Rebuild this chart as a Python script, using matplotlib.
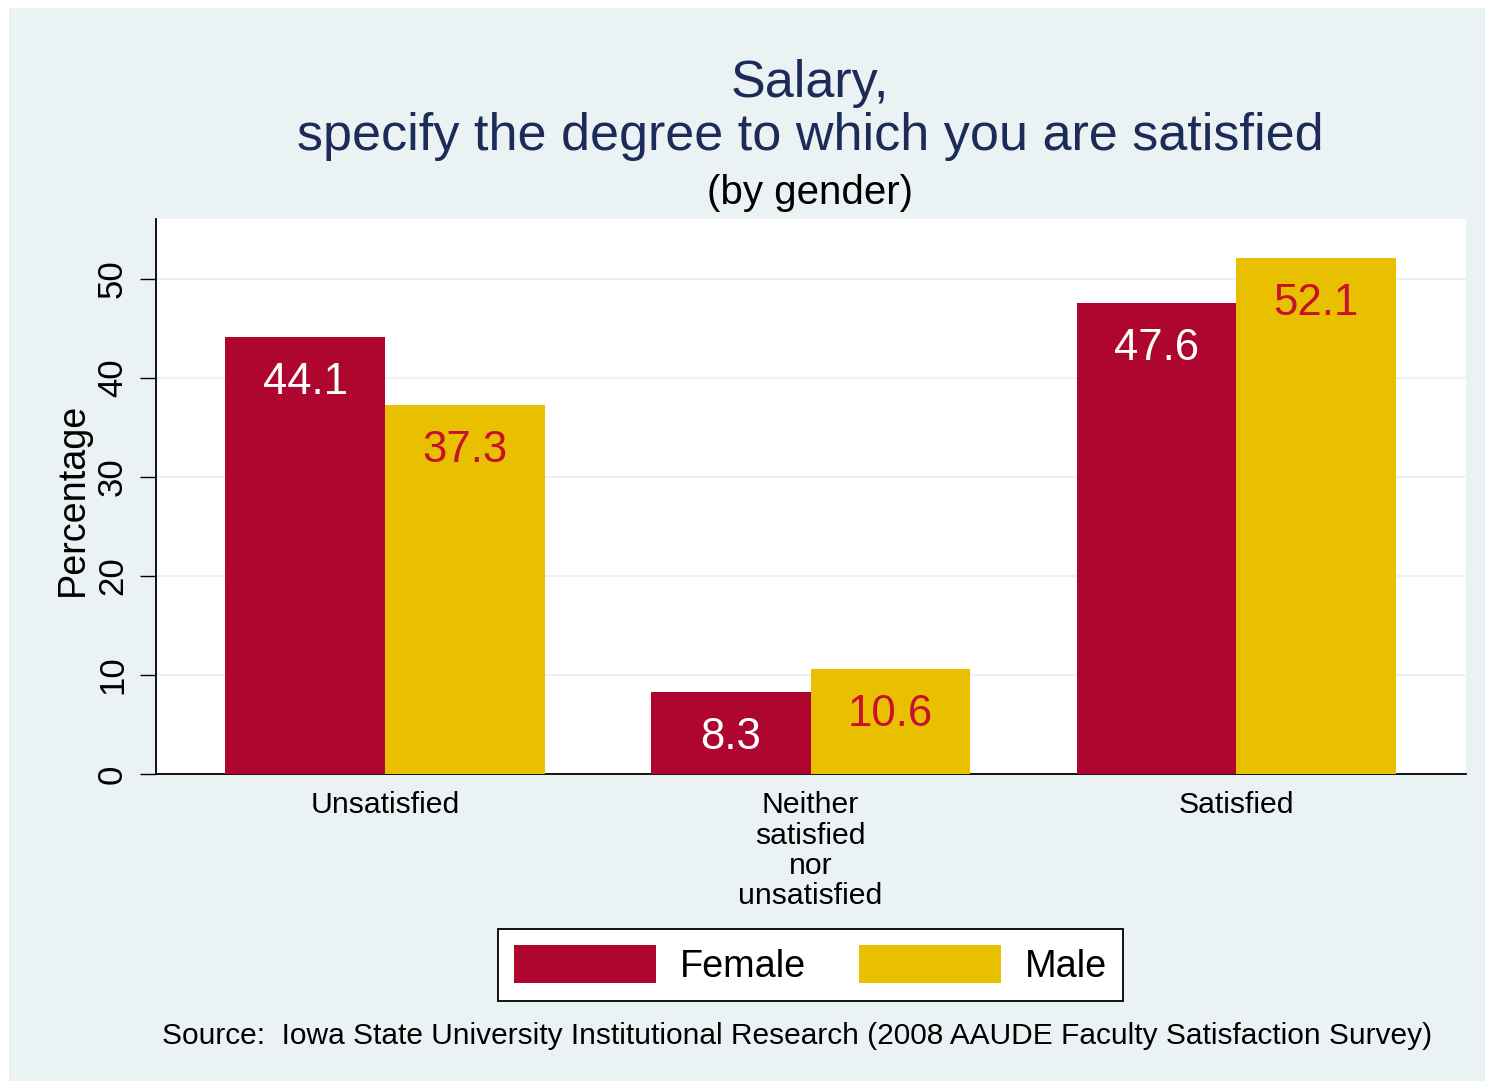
import matplotlib
matplotlib.use('Agg')
import matplotlib.pyplot as plt
from matplotlib.patches import Patch, Rectangle
import numpy as np

plt.rcParams['font.family'] = ['Liberation Sans', 'DejaVu Sans']

# data
categories = ['Unsatisfied', 'Neither\nsatisfied\nnor\nunsatisfied', 'Satisfied']
female = [44.1, 8.3, 47.6]
male = [37.3, 10.6, 52.1]
series_names = ['Female', 'Male']

bg = '#EAF2F3'
female_col = '#AF0630'
male_col = '#E8C000'
title_col = '#1C2B57'

fig = plt.figure(figsize=(14.94, 10.89), dpi=100)
fig.patch.set_facecolor('white')
fig.patches.append(Rectangle((9 / 1494, 8 / 1089), 1 - 18 / 1494, 1 - 16 / 1089,
                             transform=fig.transFigure, facecolor=bg,
                             edgecolor='none', zorder=-10))

ax = fig.add_axes([156 / 1494, 1 - 774 / 1089, 1310 / 1494, 555 / 1089])
ax.set_facecolor('white')

x = np.arange(len(categories))
w = 0.375
bars_f = ax.bar(x - w / 2, female, w, color=female_col, zorder=3)
bars_m = ax.bar(x + w / 2, male, w, color=male_col, zorder=3)

for b, v in zip(bars_f, female):
    ax.annotate('%.1f' % v, (b.get_x() + b.get_width() / 2, v),
                xytext=(0, -18), textcoords='offset points',
                ha='center', va='top', color='white', fontsize=31.5, zorder=4)
for b, v in zip(bars_m, male):
    ax.annotate('%.1f' % v, (b.get_x() + b.get_width() / 2, v),
                xytext=(0, -18), textcoords='offset points',
                ha='center', va='top', color='#C8102E', fontsize=31.5, zorder=4)

ax.set_xlim(-0.538, 2.54)
ax.set_ylim(0, 56.06)
ax.set_yticks([0, 10, 20, 30, 40, 50])
ax.yaxis.grid(True, color=bg, linewidth=1.5, zorder=0)
ax.set_axisbelow(True)

ax.set_xticks(x)
ax.set_xticklabels(categories, fontsize=21.7, linespacing=1.1)
ax.tick_params(axis='x', length=0, pad=12.5)
ax.tick_params(axis='y', length=11.5, width=1, pad=8, labelsize=25)
for lab in ax.get_yticklabels():
    lab.set_rotation(90)
    lab.set_va('center')

for s in ['top', 'right']:
    ax.spines[s].set_visible(False)
for s in ['left', 'bottom']:
    ax.spines[s].set_linewidth(1.3)
    ax.spines[s].set_color('black')

fig.text(73 / 1494, 1 - 499 / 1089, 'Percentage', rotation=90,
         ha='center', va='center', fontsize=27.2)

fig.text(810 / 1494, 1 - 97 / 1089, 'Salary,', ha='center', va='baseline',
         fontsize=37.5, color=title_col)
fig.text(810 / 1494, 1 - 150 / 1089, 'specify the degree to which you are satisfied',
         ha='center', va='baseline', fontsize=37.5, color=title_col)
fig.text(810 / 1494, 1 - 204 / 1089, '(by gender)', ha='center', va='baseline',
         fontsize=29, color='black')

handles = [Patch(facecolor=female_col, label=series_names[0]),
           Patch(facecolor=male_col, label=series_names[1])]
leg = fig.legend(handles=handles, loc='center', ncol=2,
                 bbox_to_anchor=(810.5 / 1494, 1 - 965 / 1089),
                 fontsize=27.3, frameon=True, fancybox=False, framealpha=1,
                 handlelength=3.75, handleheight=1.15, handletextpad=0.62,
                 columnspacing=1.4, borderpad=0.42, borderaxespad=0)
leg.get_frame().set_edgecolor('black')
leg.get_frame().set_linewidth(1.3)
leg.get_frame().set_facecolor('white')

fig.text(797 / 1494, 1 - 1044 / 1089,
         'Source:  Iowa State University Institutional Research (2008 AAUDE Faculty Satisfaction Survey)',
         ha='center', va='baseline', fontsize=21.5)

fig.savefig('out.png', dpi=100, facecolor='white')
